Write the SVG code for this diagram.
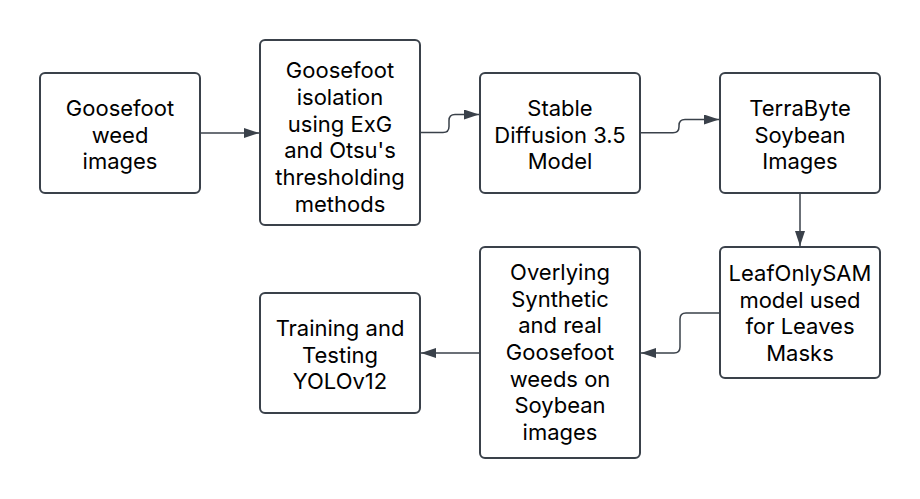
<svg xmlns="http://www.w3.org/2000/svg" width="920" height="499" viewBox="0 0 920 499">
<style>
.box{fill:#ffffff;stroke:#3a414a;stroke-width:2}
.lbl{font-family:Inter,"Liberation Sans",sans-serif;font-size:22px;fill:#000000;text-anchor:middle}
.edge{fill:none;stroke:#3a414a;stroke-width:1.5}
</style>
<defs>
<marker id="ah" markerUnits="userSpaceOnUse" markerWidth="16" markerHeight="12" refX="15" refY="5" orient="auto">
<path d="M0,0 L15,5 L0,10 z" fill="#3a414a"/>
</marker>
</defs>
<rect width="920" height="499" fill="#ffffff"/>
<g id="n1"><rect class="box" x="40" y="73" width="160" height="120" rx="5"/>
<text class="lbl"><tspan x="120" y="116">Goosefoot</tspan><tspan x="120" y="142.7">weed</tspan><tspan x="120" y="169.3">images</tspan></text></g>
<g id="n2"><rect class="box" x="260" y="40" width="160" height="185" rx="5"/>
<text class="lbl"><tspan x="340" y="78.3">Goosefoot</tspan><tspan x="340" y="105">isolation</tspan><tspan x="340" y="131.7">using ExG</tspan><tspan x="340" y="158.3">and Otsu's</tspan><tspan x="340" y="185">thresholding</tspan><tspan x="340" y="211.7">methods</tspan></text></g>
<g id="n3"><rect class="box" x="480" y="73" width="160" height="120" rx="5"/>
<text class="lbl"><tspan x="560" y="116">Stable</tspan><tspan x="560" y="142.7">Diffusion 3.5</tspan><tspan x="560" y="169.3">Model</tspan></text></g>
<g id="n4"><rect class="box" x="720" y="73" width="160" height="120" rx="5"/>
<text class="lbl"><tspan x="800" y="116">TerraByte</tspan><tspan x="800" y="142.7">Soybean</tspan><tspan x="800" y="169.3">Images</tspan></text></g>
<g id="n5"><rect class="box" x="720" y="247" width="160" height="131" rx="5"/>
<text class="lbl"><tspan x="800" y="281">LeafOnlySAM</tspan><tspan x="800" y="307.7">model used</tspan><tspan x="800" y="334.3">for Leaves</tspan><tspan x="800" y="361">Masks</tspan></text></g>
<g id="n6"><rect class="box" x="480" y="247" width="160" height="211" rx="5"/>
<text class="lbl"><tspan x="560" y="280">Overlying</tspan><tspan x="560" y="306.7">Synthetic</tspan><tspan x="560" y="333.3">and real</tspan><tspan x="560" y="360">Goosefoot</tspan><tspan x="560" y="386.7">weeds on</tspan><tspan x="560" y="413.3">Soybean</tspan><tspan x="560" y="440">images</tspan></text></g>
<g id="n7"><rect class="box" x="260" y="293" width="160" height="120" rx="5"/>
<text class="lbl"><tspan x="340" y="336">Training and</tspan><tspan x="340" y="362.7">Testing</tspan><tspan x="340" y="389.3">YOLOv12</tspan></text></g>
<g id="edges">
<path class="edge" marker-end="url(#ah)" d="M201,133 H259"/>
<path class="edge" marker-end="url(#ah)" d="M421,132.5 H443 Q449,132.5 449,126.5 V120.5 Q449,114.5 455,114.5 H479"/>
<path class="edge" marker-end="url(#ah)" d="M641,132.7 H673 Q679,132.7 679,126.7 V125.5 Q679,119.5 685,119.5 H719"/>
<path class="edge" marker-end="url(#ah)" d="M800,194 V246"/>
<path class="edge" marker-end="url(#ah)" d="M719,313 H686 Q680,313 680,319 V347 Q680,353 674,353 H641"/>
<path class="edge" marker-end="url(#ah)" d="M479,353 H421"/>
</g>
</svg>
